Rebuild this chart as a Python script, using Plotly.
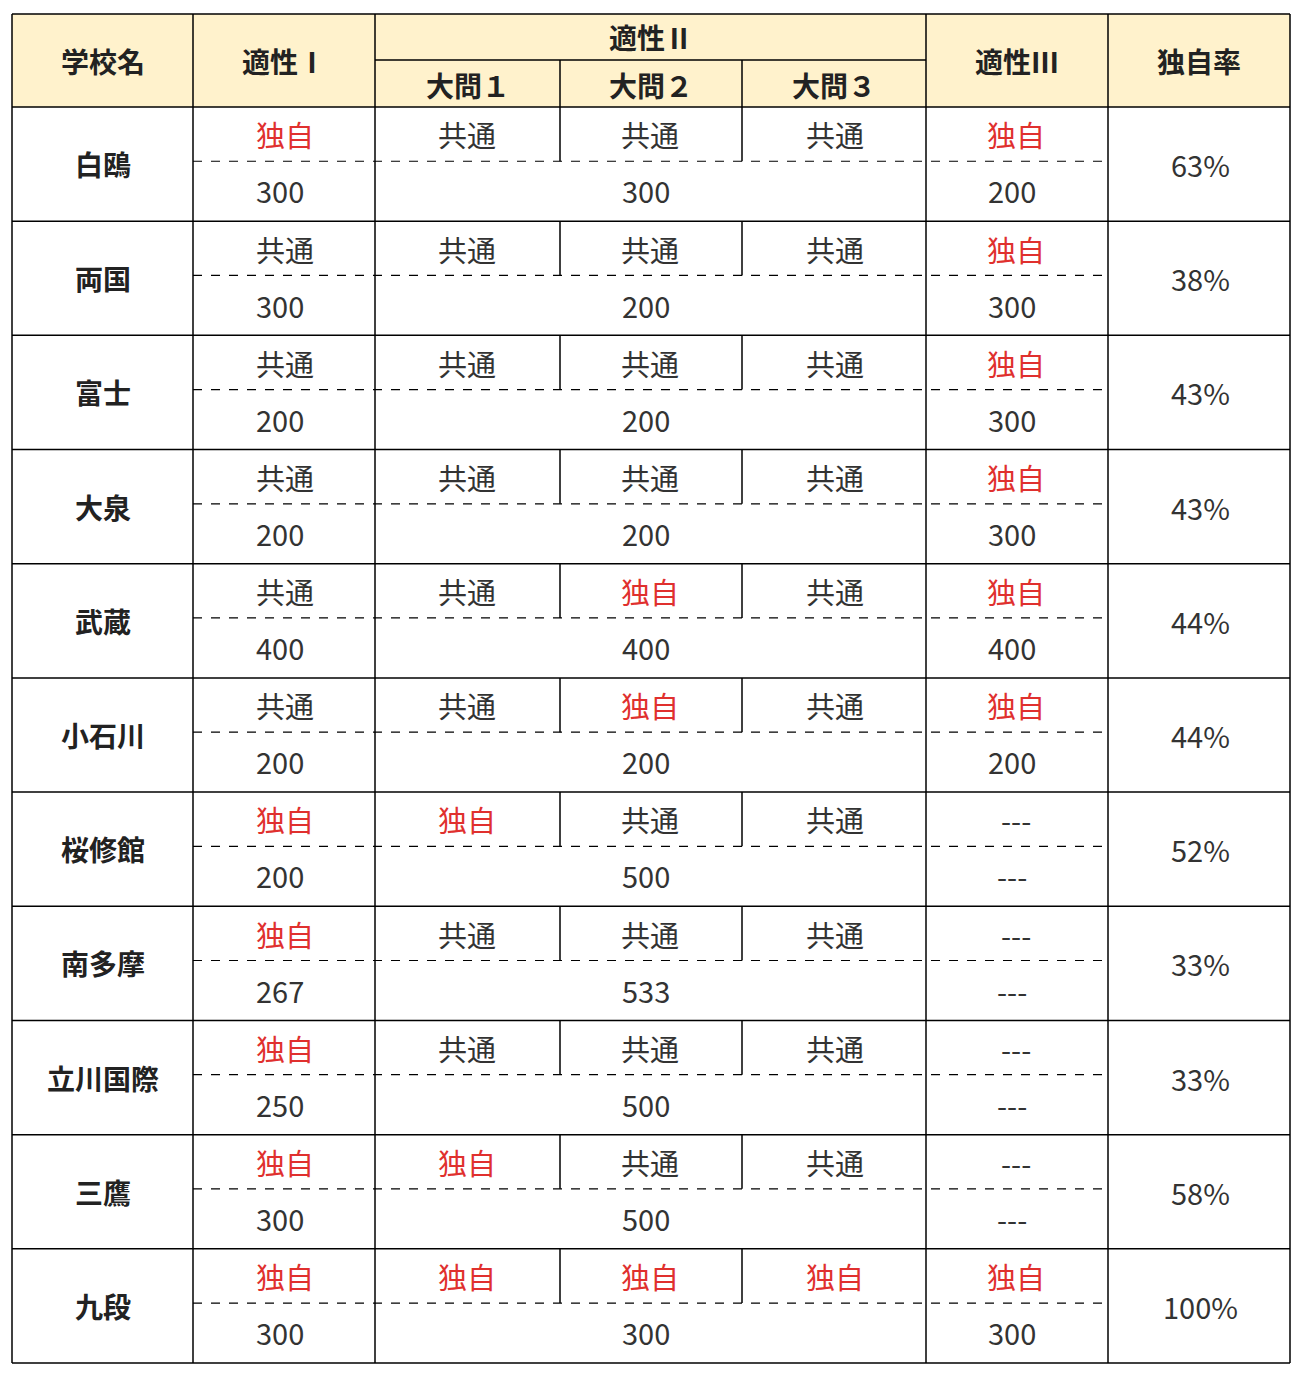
import plotly.graph_objects as go

schools = ["白鴎", "両国", "富士", "大泉", "武蔵", "小石川", "桜修館", "南多摩", "立川国際", "三鷹", "九段"]
apt1_type = ["独自", "共通", "共通", "共通", "共通", "共通", "独自", "独自", "独自", "独自", "独自"]
q1_type = ["共通", "共通", "共通", "共通", "共通", "共通", "独自", "共通", "共通", "独自", "独自"]
q2_type = ["共通", "共通", "共通", "共通", "独自", "独自", "共通", "共通", "共通", "共通", "独自"]
q3_type = ["共通", "共通", "共通", "共通", "共通", "共通", "共通", "共通", "共通", "共通", "独自"]
apt3_type = ["独自", "独自", "独自", "独自", "独自", "独自", "---", "---", "---", "---", "独自"]
apt1_pts = ["300", "300", "200", "200", "400", "200", "200", "267", "250", "300", "300"]
apt2_pts = ["300", "200", "200", "200", "400", "200", "500", "533", "500", "500", "300"]
apt3_pts = ["200", "300", "300", "300", "400", "200", "---", "---", "---", "---", "300"]
rates = ["63%", "38%", "43%", "43%", "44%", "44%", "52%", "33%", "33%", "58%", "100%"]

FONT = "Noto Sans CJK JP"
RED = "#e0302e"
TXT = "#333333"
xs = [12, 193, 375, 560, 742, 926, 1108, 1290]
top, hmid, hbot = 14, 60, 107
rh = (1363 - 107) / 11

shapes, ann = [], []
def line(x0, y0, x1, y1, dash="solid", w=1.5, c="black"):
    shapes.append(dict(type="line", x0=x0, y0=y0, x1=x1, y1=y1, line=dict(color=c, width=w, dash=dash)))
def text(x, y, t, color=TXT, bold=False, size=29):
    ann.append(dict(x=x, y=y, text=f"<b>{t}</b>" if bold else t, showarrow=False,
                    font=dict(family=FONT, size=size, color=color), xanchor="center", yanchor="middle"))

shapes.append(dict(type="rect", x0=12, y0=top, x1=1290, y1=hbot, fillcolor="#fff2cc", line=dict(width=0), layer="below"))
line(8, 4, 1300, 4, w=1, c="#d0d0d0")
hdr = [("学校名", 103), ("適性Ⅰ", 284), ("適性Ⅲ", 1017), ("独自率", 1199)]
for t, x in hdr:
    text(x, (top + hbot) / 2, t, color="#222", bold=True, size=28)
text(651, (top + hmid) / 2, "適性Ⅱ", color="#222", bold=True, size=28)
for i, t in enumerate(["大問１", "大問２", "大問３"]):
    text((xs[2 + i] + xs[3 + i]) / 2, (hmid + hbot) / 2 + 1, t, color="#222", bold=True, size=28)
line(375, hmid, 926, hmid)
line(560, hmid, 560, hbot); line(742, hmid, 742, hbot)

for i, s in enumerate(schools):
    y0 = hbot + i * rh
    ym = y0 + rh * 0.475
    yt = y0 + rh * 0.24
    yb = y0 + rh * 0.73
    line(193, ym, 1108, ym, dash="dash", w=1.2)
    line(560, y0, 560, ym); line(742, y0, 742, ym)
    line(12, y0 + rh, 1290, y0 + rh)
    text(103, y0 + rh / 2, s, color="#222", bold=True, size=28)
    for t, x in zip([apt1_type[i], q1_type[i], q2_type[i], q3_type[i], apt3_type[i]], [285, 467, 650, 835, 1016]):
        text(x, yt, t, color=RED if t == "独自" else TXT)
    for t, x in zip([apt1_pts[i], apt2_pts[i], apt3_pts[i]], [280, 646, 1012]):
        text(x, yb, t)
    text(1200, y0 + rh / 2, rates[i])

for x in xs:
    if x not in (560, 742):
        line(x, top, x, 1363, w=1.5)
line(12, top, 1290, top); line(12, hbot, 1290, hbot)

fig = go.Figure()
fig.update_layout(width=1300, height=1374, margin=dict(l=0, r=0, t=0, b=0),
                  plot_bgcolor="white", paper_bgcolor="white", shapes=shapes, annotations=ann,
                  xaxis=dict(range=[8, 1308], visible=False, fixedrange=True),
                  yaxis=dict(range=[1382, 8], visible=False, fixedrange=True), showlegend=False)
fig.write_html("out.html")
